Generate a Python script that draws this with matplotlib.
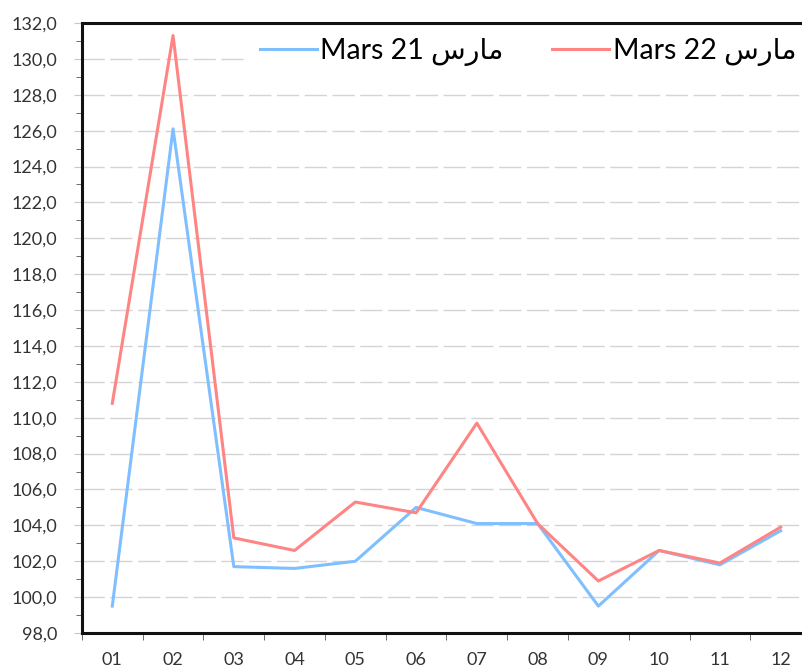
import matplotlib
matplotlib.use("Agg")
import matplotlib.pyplot as plt
from matplotlib.ticker import FuncFormatter, MultipleLocator, FixedLocator

# Monthly values
months = ["01", "02", "03", "04", "05", "06", "07", "08", "09", "10", "11", "12"]
mars21 = [99.5, 126.1, 101.7, 101.6, 102.0, 105.0, 104.1, 104.1, 99.5, 102.6, 101.8, 103.7]
mars22 = [110.8, 131.3, 103.3, 102.6, 105.3, 104.7, 109.7, 104.1, 100.9, 102.6, 101.9, 103.9]

# Arabic "مارس" in presentation forms, visual order (matplotlib does no shaping)
ar_mars = "\uFEB1\uFEAD\uFE8E\uFEE3"
labels = [f"Mars 21 {ar_mars}", f"Mars 22 {ar_mars}"]

plt.rcParams["font.family"] = ["Lato", "DejaVu Sans"]

fig = plt.figure(figsize=(8.03, 6.70), dpi=100)
ax = fig.add_axes([0.102, 0.0552, 0.908, 0.9105])

x = list(range(1, len(months) + 1))
ax.plot(x, mars21, color="#80bfff", lw=2.2, label=labels[0], zorder=3)
ax.plot(x, mars22, color="#ff8585", lw=2.2, label=labels[1], zorder=3)

ax.set_xlim(0.5, 12.5)
ax.set_ylim(98, 132)

ax.yaxis.set_major_locator(MultipleLocator(2))
ax.yaxis.set_minor_locator(MultipleLocator(1))
ax.yaxis.set_major_formatter(FuncFormatter(lambda v, p: f"{v:.1f}".replace(".", ",")))
ax.grid(axis="y", which="major", color="#d4d4d4", lw=1.0, ls=(0, (16, 4)), zorder=1)

ax.xaxis.set_major_locator(FixedLocator(x))
ax.set_xticklabels(months)
ax.xaxis.set_minor_locator(FixedLocator([i + 0.5 for i in range(0, 13)]))

ax.tick_params(axis="y", which="major", length=6, color="#c8c8c8", pad=12,
               labelsize=13, labelcolor="#333333")
ax.tick_params(axis="y", which="minor", length=4, color="#555555")
ax.tick_params(axis="x", which="major", length=0, pad=14, labelsize=13,
               labelcolor="#333333")
ax.tick_params(axis="x", which="minor", length=5, color="#555555")

for side in ["top", "left", "bottom"]:
    ax.spines[side].set_linewidth(2.2)
    ax.spines[side].set_color("#111111")
ax.spines["right"].set_visible(False)

leg = ax.legend(loc="upper right", ncol=2, frameon=True, fontsize=20.5,
                handlelength=2.0, columnspacing=1.7, handletextpad=0.12,
                bbox_to_anchor=(1.003, 1.004), borderaxespad=0.2)
leg.get_frame().set_edgecolor("none")
leg.get_frame().set_facecolor("white")
leg.get_frame().set_alpha(1.0)
leg.get_frame().set_boxstyle("square", pad=0.0)

fig.savefig("out.png", dpi=100)
